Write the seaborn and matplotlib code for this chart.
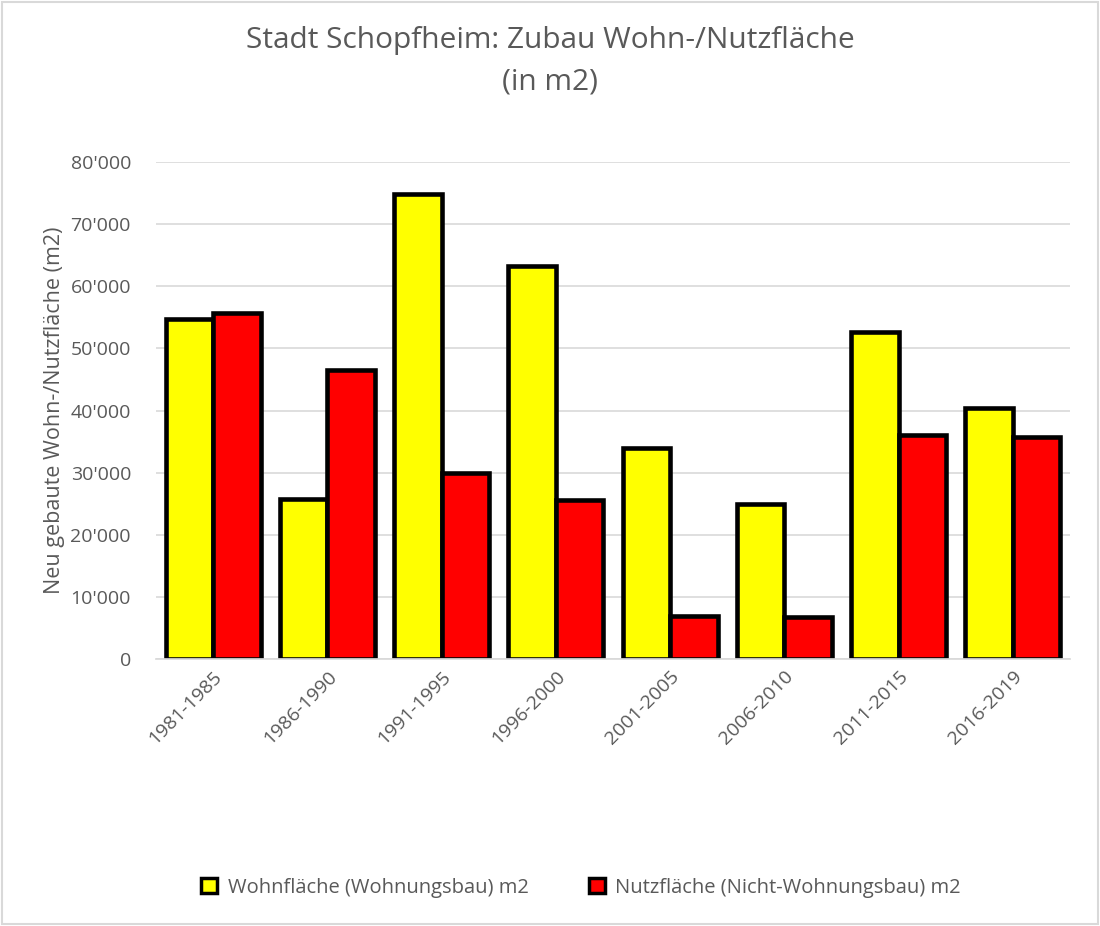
import matplotlib
matplotlib.use("Agg")
import matplotlib.pyplot as plt
import seaborn as sns
import pandas as pd
from matplotlib.ticker import FuncFormatter
from matplotlib.patches import Rectangle

periods = ["1981-1985", "1986-1990", "1991-1995", "1996-2000",
           "2001-2005", "2006-2010", "2011-2015", "2016-2019"]
wohnflaeche = [54800, 25700, 74800, 63300, 34000, 25000, 52700, 40400]
nutzflaeche = [55700, 46600, 29900, 25600, 7000, 6700, 36100, 35700]
series_names = ["Wohnfläche (Wohnungsbau) m2", "Nutzfläche (Nicht-Wohnungsbau) m2"]

df = pd.DataFrame({
    "Periode": periods * 2,
    "Wert": wohnflaeche + nutzflaeche,
    "Serie": [series_names[0]] * len(periods) + [series_names[1]] * len(periods),
})

sns.set_theme(style="white")
plt.rcParams["font.family"] = ["Open Sans", "DejaVu Sans"]
gray = "#595959"

fig = plt.figure(figsize=(11, 9.26), dpi=100)
ax = fig.add_axes([0.1418, 0.2883, 0.8309, 0.5367])

sns.barplot(data=df, x="Periode", y="Wert", hue="Serie",
            palette=["#ffff00", "#ff0000"], saturation=1, width=0.83,
            edgecolor="black", linewidth=3.3, ax=ax, legend=True)

ax.set_ylim(0, 80000)
ax.set_yticks(range(0, 80001, 10000))
ax.yaxis.set_major_formatter(FuncFormatter(lambda v, p: f"{int(v):,}".replace(",", "'")))
ax.grid(axis="y", color="#d9d9d9", linewidth=1.2)
ax.set_axisbelow(True)
for s in ["top", "right", "left"]:
    ax.spines[s].set_visible(False)
ax.spines["bottom"].set_color("#d9d9d9")
ax.tick_params(axis="both", length=0, colors=gray, labelsize=14)
ax.tick_params(axis="y", pad=18)
ax.tick_params(axis="x", pad=6)
plt.setp(ax.get_xticklabels(), rotation=45, ha="right", rotation_mode="anchor")
ax.set_xlabel("")
ax.set_ylabel("Neu gebaute Wohn-/Nutzfläche (m2)", color=gray, fontsize=15.5, labelpad=4)

fig.suptitle("Stadt Schopfheim: Zubau Wohn-/Nutzfläche\n(in m2)", color=gray,
             fontsize=21.5, y=0.972, linespacing=1.55)

leg = ax.legend(loc="center", bbox_to_anchor=(0.465, -0.46), ncol=2, frameon=False,
                fontsize=14.5, handlelength=0.8, handleheight=0.8, columnspacing=3.0,
                handletextpad=0.5)
for t in leg.get_texts():
    t.set_color(gray)
for h in leg.legend_handles:
    h.set_linewidth(2.5)

fig.patches.append(Rectangle((0.002, 0.002), 0.996, 0.996, transform=fig.transFigure,
                             fill=False, edgecolor="#d9d9d9", linewidth=1.5))

fig.savefig("out.png", dpi=100)
